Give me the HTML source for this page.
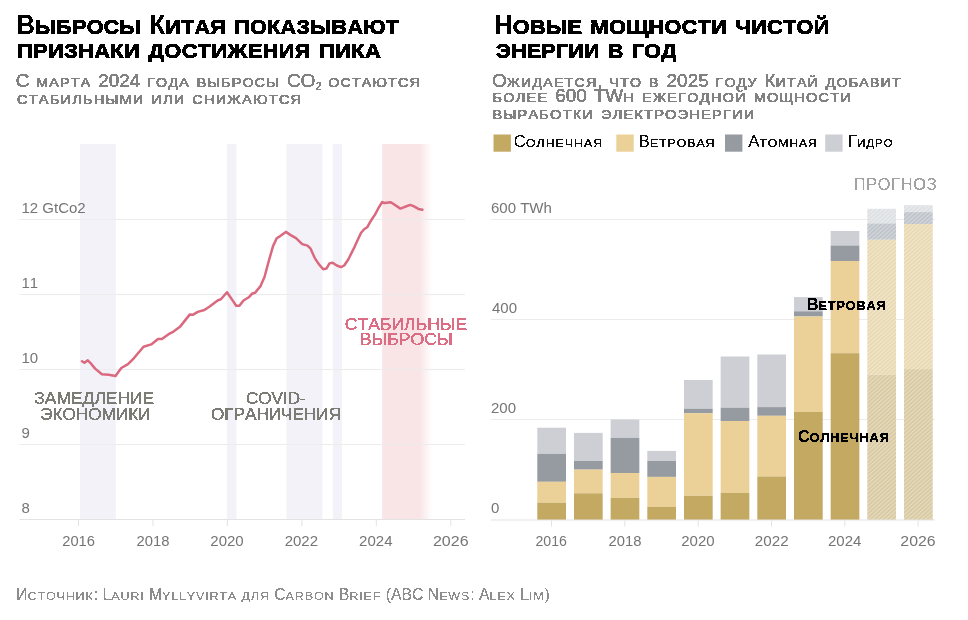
<!DOCTYPE html>
<html lang="ru"><head><meta charset="utf-8"><title>Выбросы Китая</title>
<style>
html,body{margin:0;padding:0;background:#fff}
svg{display:block}
text{font-family:"Liberation Sans", Arial, sans-serif;white-space:pre;font-kerning:none}
.u{text-transform:uppercase}
</style></head>
<body>
<svg width="968" height="620" viewBox="0 0 968 620">
<defs><filter id="crisp" x="-2%" y="-20%" width="104%" height="140%"><feComponentTransfer><feFuncA type="discrete" tableValues="0 0 1 1 1"/></feComponentTransfer></filter></defs>
<defs>
<linearGradient id="pk" x1="0" x2="1" y1="0" y2="0"><stop offset="0" stop-color="#f9e4e6"/><stop offset="0.74" stop-color="#f9e4e6"/><stop offset="1" stop-color="#f9e4e6" stop-opacity="0"/></linearGradient>
<clipPath id="fc"><rect x="867.33" y="208.8" width="28.7" height="311.2"/><rect x="904.00" y="205.2" width="28.7" height="314.8"/></clipPath>
</defs>
<rect x="80" y="144" width="35.8" height="375.5" fill="#f2f2f8"/>
<rect x="226.8" y="144" width="9.6" height="375.5" fill="#f2f2f8"/>
<rect x="286.5" y="144" width="35.9" height="375.5" fill="#f2f2f8"/>
<rect x="332.8" y="144" width="9.1" height="375.5" fill="#f2f2f8"/>
<rect x="382.2" y="144" width="50" height="375.5" fill="url(#pk)"/>
<rect x="19.5" y="219.0" width="445.5" height="1" fill="#ececec"/>
<rect x="19.5" y="294.0" width="445.5" height="1" fill="#ececec"/>
<rect x="19.5" y="369.0" width="445.5" height="1" fill="#ececec"/>
<rect x="19.5" y="444.0" width="445.5" height="1" fill="#ececec"/>
<rect x="19.5" y="519" width="445.5" height="1" fill="#e3e3e3"/>
<rect x="78.00" y="520" width="1" height="6" fill="#e3e3e3"/>
<rect x="152.45" y="520" width="1" height="6" fill="#e3e3e3"/>
<rect x="226.90" y="520" width="1" height="6" fill="#e3e3e3"/>
<rect x="301.35" y="520" width="1" height="6" fill="#e3e3e3"/>
<rect x="375.80" y="520" width="1" height="6" fill="#e3e3e3"/>
<rect x="450.25" y="520" width="1" height="6" fill="#e3e3e3"/>
<path d="M82,361.2 L84.5,362.8 L87.8,360.3 L90.3,362.8 L95.1,368.6 L101.9,374.2 L108.7,374.8 L115.5,376.1 L121.3,368 L128,364.1 L133.8,358.3 L143.5,346.7 L151.2,344.4 L158,339 L161.9,339 L168.6,334.2 L172.5,332.2 L180.3,326.4 L189.9,314.4 L192.8,314.8 L197.7,311.9 L204.4,310 L209.3,306.7 L218,300.3 L220.9,299.3 L227.0,292.3 L233.1,301.1 L236.2,305.7 L239.4,305.7 L243.5,300.5 L248.8,297.3 L251.9,293.8 L255.1,292.7 L260.3,286.4 L264.5,277 L268.7,261.3 L272.9,246.6 L276.7,238.2 L280.2,236.1 L285.9,231.9 L290.7,235.1 L296,238.2 L302.2,244.1 L307.5,245.6 L310.6,248.7 L314.8,258.1 L319,264.4 L323.2,269.2 L326.4,268.6 L329.5,263.4 L332.6,262.7 L336.8,265.5 L341,267.1 L344.2,265.5 L348.4,259.2 L354.7,246.6 L360.9,233 L364.1,229.2 L367.2,227.3 L369.5,223.2 L372,219 L375,214.6 L378.5,208 L382.1,202.1 L384.3,203 L390.8,202.2 L393.5,204 L400.4,208.6 L405,206.8 L410.3,204.9 L414,206.3 L418.4,208.9 L422.4,209.7" fill="none" stroke="#da687e" stroke-width="2.5" stroke-linejoin="round" stroke-linecap="round"/>
<rect x="491" y="219.0" width="444" height="1" fill="#ececec"/>
<rect x="491" y="319.0" width="444" height="1" fill="#ececec"/>
<rect x="491" y="419.0" width="444" height="1" fill="#ececec"/>
<rect x="537.30" y="427.7" width="28.7" height="26.2" fill="#cdcfd4"/>
<rect x="537.30" y="453.9" width="28.7" height="27.9" fill="#969ba2"/>
<rect x="537.30" y="481.8" width="28.7" height="20.9" fill="#ebd198"/>
<rect x="537.30" y="502.7" width="28.7" height="17.3" fill="#c4a963"/>
<rect x="573.97" y="432.9" width="28.7" height="28.1" fill="#cdcfd4"/>
<rect x="573.97" y="461" width="28.7" height="8.6" fill="#969ba2"/>
<rect x="573.97" y="469.6" width="28.7" height="23.7" fill="#ebd198"/>
<rect x="573.97" y="493.3" width="28.7" height="26.7" fill="#c4a963"/>
<rect x="610.64" y="419.5" width="28.7" height="18.4" fill="#cdcfd4"/>
<rect x="610.64" y="437.9" width="28.7" height="35.1" fill="#969ba2"/>
<rect x="610.64" y="473" width="28.7" height="24.9" fill="#ebd198"/>
<rect x="610.64" y="497.9" width="28.7" height="22.1" fill="#c4a963"/>
<rect x="647.31" y="450.9" width="28.7" height="10.1" fill="#cdcfd4"/>
<rect x="647.31" y="461" width="28.7" height="15.9" fill="#969ba2"/>
<rect x="647.31" y="476.9" width="28.7" height="30.0" fill="#ebd198"/>
<rect x="647.31" y="506.9" width="28.7" height="13.1" fill="#c4a963"/>
<rect x="683.98" y="380" width="28.7" height="28.7" fill="#cdcfd4"/>
<rect x="683.98" y="408.7" width="28.7" height="4.5" fill="#969ba2"/>
<rect x="683.98" y="413.2" width="28.7" height="82.6" fill="#ebd198"/>
<rect x="683.98" y="495.8" width="28.7" height="24.2" fill="#c4a963"/>
<rect x="720.65" y="356.5" width="28.7" height="51.2" fill="#cdcfd4"/>
<rect x="720.65" y="407.7" width="28.7" height="13.3" fill="#969ba2"/>
<rect x="720.65" y="421" width="28.7" height="71.9" fill="#ebd198"/>
<rect x="720.65" y="492.9" width="28.7" height="27.1" fill="#c4a963"/>
<rect x="757.32" y="354.5" width="28.7" height="52.6" fill="#cdcfd4"/>
<rect x="757.32" y="407.1" width="28.7" height="8.7" fill="#969ba2"/>
<rect x="757.32" y="415.8" width="28.7" height="60.7" fill="#ebd198"/>
<rect x="757.32" y="476.5" width="28.7" height="43.5" fill="#c4a963"/>
<rect x="793.99" y="297.1" width="28.7" height="14.2" fill="#cdcfd4"/>
<rect x="793.99" y="311.3" width="28.7" height="5.2" fill="#969ba2"/>
<rect x="793.99" y="316.5" width="28.7" height="95.4" fill="#ebd198"/>
<rect x="793.99" y="411.9" width="28.7" height="108.1" fill="#c4a963"/>
<rect x="830.66" y="231" width="28.7" height="14.5" fill="#cdcfd4"/>
<rect x="830.66" y="245.5" width="28.7" height="15.5" fill="#969ba2"/>
<rect x="830.66" y="261" width="28.7" height="92.2" fill="#ebd198"/>
<rect x="830.66" y="353.2" width="28.7" height="166.8" fill="#c4a963"/>
<rect x="867.33" y="208.8" width="28.7" height="14.6" fill="#dde0e3"/>
<rect x="867.33" y="223.4" width="28.7" height="16.4" fill="#bdc3c9"/>
<rect x="867.33" y="239.8" width="28.7" height="135.0" fill="#e9d9b1"/>
<rect x="867.33" y="374.8" width="28.7" height="145.2" fill="#d8c9a0"/>
<rect x="904.00" y="205.2" width="28.7" height="6.9" fill="#dde0e3"/>
<rect x="904.00" y="212.1" width="28.7" height="11.9" fill="#bdc3c9"/>
<rect x="904.00" y="224" width="28.7" height="145.1" fill="#e9d9b1"/>
<rect x="904.00" y="369.1" width="28.7" height="150.9" fill="#d8c9a0"/>
<path clip-path="url(#fc)" d="M862,200.00L938,131.57M862,203.96L938,135.53M862,207.92L938,139.49M862,211.89L938,143.45M862,215.85L938,147.42M862,219.81L938,151.38M862,223.77L938,155.34M862,227.73L938,159.30M862,231.69L938,163.26M862,235.66L938,167.23M862,239.62L938,171.19M862,243.58L938,175.15M862,247.54L938,179.11M862,251.50L938,183.07M862,255.46L938,187.03M862,259.43L938,191.00M862,263.39L938,194.96M862,267.35L938,198.92M862,271.31L938,202.88M862,275.27L938,206.84M862,279.24L938,210.80M862,283.20L938,214.77M862,287.16L938,218.73M862,291.12L938,222.69M862,295.08L938,226.65M862,299.04L938,230.61M862,303.01L938,234.58M862,306.97L938,238.54M862,310.93L938,242.50M862,314.89L938,246.46M862,318.85L938,250.42M862,322.82L938,254.38M862,326.78L938,258.35M862,330.74L938,262.31M862,334.70L938,266.27M862,338.66L938,270.23M862,342.62L938,274.19M862,346.59L938,278.16M862,350.55L938,282.12M862,354.51L938,286.08M862,358.47L938,290.04M862,362.43L938,294.00M862,366.39L938,297.96M862,370.36L938,301.93M862,374.32L938,305.89M862,378.28L938,309.85M862,382.24L938,313.81M862,386.20L938,317.77M862,390.17L938,321.73M862,394.13L938,325.70M862,398.09L938,329.66M862,402.05L938,333.62M862,406.01L938,337.58M862,409.97L938,341.54M862,413.94L938,345.51M862,417.90L938,349.47M862,421.86L938,353.43M862,425.82L938,357.39M862,429.78L938,361.35M862,433.74L938,365.31M862,437.71L938,369.28M862,441.67L938,373.24M862,445.63L938,377.20M862,449.59L938,381.16M862,453.55L938,385.12M862,457.52L938,389.08M862,461.48L938,393.05M862,465.44L938,397.01M862,469.40L938,400.97M862,473.36L938,404.93M862,477.32L938,408.89M862,481.29L938,412.86M862,485.25L938,416.82M862,489.21L938,420.78M862,493.17L938,424.74M862,497.13L938,428.70M862,501.10L938,432.66M862,505.06L938,436.63M862,509.02L938,440.59M862,512.98L938,444.55M862,516.94L938,448.51M862,520.90L938,452.47M862,524.87L938,456.44M862,528.83L938,460.40M862,532.79L938,464.36M862,536.75L938,468.32M862,540.71L938,472.28M862,544.67L938,476.24M862,548.64L938,480.21M862,552.60L938,484.17M862,556.56L938,488.13M862,560.52L938,492.09M862,564.48L938,496.05M862,568.45L938,500.01M862,572.41L938,503.98M862,576.37L938,507.94M862,580.33L938,511.90M862,584.29L938,515.86M862,588.25L938,519.82M862,592.22L938,523.79" stroke="#fff" stroke-opacity="0.3" stroke-width="1.47" fill="none"/>
<rect x="491" y="519.5" width="444" height="1" fill="#e3e3e3"/>
<rect x="551.00" y="520.5" width="1" height="6" fill="#e3e3e3"/>
<rect x="624.33" y="520.5" width="1" height="6" fill="#e3e3e3"/>
<rect x="697.66" y="520.5" width="1" height="6" fill="#e3e3e3"/>
<rect x="770.99" y="520.5" width="1" height="6" fill="#e3e3e3"/>
<rect x="844.32" y="520.5" width="1" height="6" fill="#e3e3e3"/>
<rect x="917.65" y="520.5" width="1" height="6" fill="#e3e3e3"/>
<rect x="493.5" y="134.5" width="17.4" height="17.2" fill="#c4a963"/>
<rect x="616.3" y="134.5" width="17.4" height="17.2" fill="#ebd198"/>
<rect x="725.0" y="134.5" width="17.4" height="17.2" fill="#969ba2"/>
<rect x="825.2" y="134.5" width="17.4" height="17.2" fill="#cdcfd4"/>
<g font-weight="700" fill="#000" filter="url(#crisp)"><text transform="translate(16.00,34.00) scale(0.9500,1)" font-size="27.6">В</text><text transform="translate(34.94,34.00) scale(1.0857,1)" font-size="19.8" class="u" letter-spacing="0.3" stroke="#000" stroke-width="0.6">ыбросы</text><text transform="translate(141.02,34.00) scale(0.9500,1)" font-size="27.6" word-spacing="1.0"> К</text><text transform="translate(165.25,34.00) scale(1.0857,1)" font-size="19.8" class="u" letter-spacing="0.3" stroke="#000" stroke-width="0.6">итая</text><text transform="translate(226.11,34.00) scale(0.9500,1)" font-size="27.6" word-spacing="1.0"> </text><text transform="translate(234.35,34.00) scale(1.0857,1)" font-size="19.8" class="u" letter-spacing="0.3" stroke="#000" stroke-width="0.6">показывают</text></g>
<g font-weight="700" fill="#000" filter="url(#crisp)"><text transform="translate(17.00,58.00) scale(1.1056,1)" font-size="19.8" class="u" letter-spacing="0.3" stroke="#000" stroke-width="0.6">признаки</text><text transform="translate(140.15,58.00) scale(0.9500,1)" font-size="27.6" word-spacing="1.0"> </text><text transform="translate(148.38,58.00) scale(1.1056,1)" font-size="19.8" class="u" letter-spacing="0.3" stroke="#000" stroke-width="0.6">достижения</text><text transform="translate(310.90,58.00) scale(0.9500,1)" font-size="27.6" word-spacing="1.0"> </text><text transform="translate(319.13,58.00) scale(1.1056,1)" font-size="19.8" class="u" letter-spacing="0.3" stroke="#000" stroke-width="0.6">пика</text></g>
<g font-weight="700" fill="#000" filter="url(#crisp)"><text transform="translate(493.90,34.00) scale(0.9500,1)" font-size="27.6">Н</text><text transform="translate(512.84,34.00) scale(1.0952,1)" font-size="19.8" class="u" letter-spacing="0.3" stroke="#000" stroke-width="0.6">овые</text><text transform="translate(582.37,34.00) scale(0.9500,1)" font-size="27.6" word-spacing="1.0"> </text><text transform="translate(590.60,34.00) scale(1.0952,1)" font-size="19.8" class="u" letter-spacing="0.3" stroke="#000" stroke-width="0.6">мощности</text><text transform="translate(727.28,34.00) scale(0.9500,1)" font-size="27.6" word-spacing="1.0"> </text><text transform="translate(735.51,34.00) scale(1.0952,1)" font-size="19.8" class="u" letter-spacing="0.3" stroke="#000" stroke-width="0.6">чистой</text></g>
<g font-weight="700" fill="#000" filter="url(#crisp)"><text transform="translate(495.80,58.00) scale(1.0766,1)" font-size="19.8" class="u" letter-spacing="0.3" stroke="#000" stroke-width="0.6">энергии</text><text transform="translate(599.78,58.00) scale(0.9500,1)" font-size="27.6" word-spacing="1.0"> </text><text transform="translate(608.01,58.00) scale(1.0766,1)" font-size="19.8" class="u" letter-spacing="0.3" stroke="#000" stroke-width="0.6">в</text><text transform="translate(623.73,58.00) scale(0.9500,1)" font-size="27.6" word-spacing="1.0"> </text><text transform="translate(631.97,58.00) scale(1.0766,1)" font-size="19.8" class="u" letter-spacing="0.3" stroke="#000" stroke-width="0.6">год</text></g>
<g font-weight="400" fill="#828282" filter="url(#crisp)"><text transform="translate(15.80,86.60) scale(1.0100,1)" font-size="18.8" word-spacing="1.5" stroke="#828282" stroke-width="0.3">С </text><text transform="translate(36.30,86.60) scale(1.0881,1)" font-size="13.1" class="u" letter-spacing="1.1" stroke="#828282" stroke-width="0.5">марта</text><text transform="translate(91.39,86.60) scale(1.0100,1)" font-size="18.8" word-spacing="1.5" stroke="#828282" stroke-width="0.3"> 2024 </text><text transform="translate(147.21,86.60) scale(1.0881,1)" font-size="13.1" class="u" letter-spacing="1.1" stroke="#828282" stroke-width="0.5">года</text><text transform="translate(189.97,86.60) scale(1.0100,1)" font-size="18.8" word-spacing="1.5" stroke="#828282" stroke-width="0.3"> </text><text transform="translate(196.76,86.60) scale(1.0881,1)" font-size="13.1" class="u" letter-spacing="1.1" stroke="#828282" stroke-width="0.5">выбросы</text><text transform="translate(280.13,86.60) scale(1.0100,1)" font-size="18.8" word-spacing="1.5" stroke="#828282" stroke-width="0.3"> CO<tspan font-size="10.7" dy="3.3">2</tspan><tspan dy="-3.3"> </tspan></text><text transform="translate(328.20,86.60) scale(1.0881,1)" font-size="13.1" class="u" letter-spacing="1.1" stroke="#828282" stroke-width="0.5">остаются</text></g>
<g font-weight="400" fill="#828282" filter="url(#crisp)"><text transform="translate(17.00,104.20) scale(1.1103,1)" font-size="13.1" class="u" letter-spacing="1.1" stroke="#828282" stroke-width="0.5">стабильными</text><text transform="translate(144.56,104.20) scale(1.0100,1)" font-size="18.8" word-spacing="1.5" stroke="#828282" stroke-width="0.3"> </text><text transform="translate(151.35,104.20) scale(1.1103,1)" font-size="13.1" class="u" letter-spacing="1.1" stroke="#828282" stroke-width="0.5">или</text><text transform="translate(185.47,104.20) scale(1.0100,1)" font-size="18.8" word-spacing="1.5" stroke="#828282" stroke-width="0.3"> </text><text transform="translate(192.26,104.20) scale(1.1103,1)" font-size="13.1" class="u" letter-spacing="1.1" stroke="#828282" stroke-width="0.5">снижаются</text></g>
<g font-weight="400" fill="#828282" filter="url(#crisp)"><text transform="translate(492.00,86.50) scale(1.0100,1)" font-size="18.8" stroke="#828282" stroke-width="0.3">О</text><text transform="translate(506.77,86.50) scale(1.0851,1)" font-size="13.1" class="u" letter-spacing="1.1" stroke="#828282" stroke-width="0.5">жидается</text><text transform="translate(597.46,86.50) scale(1.0100,1)" font-size="18.8" word-spacing="1.5" stroke="#828282" stroke-width="0.3">, </text><text transform="translate(609.53,86.50) scale(1.0851,1)" font-size="13.1" class="u" letter-spacing="1.1" stroke="#828282" stroke-width="0.5">что</text><text transform="translate(642.32,86.50) scale(1.0100,1)" font-size="18.8" word-spacing="1.5" stroke="#828282" stroke-width="0.3"> </text><text transform="translate(649.11,86.50) scale(1.0851,1)" font-size="13.1" class="u" letter-spacing="1.1" stroke="#828282" stroke-width="0.5">в</text><text transform="translate(659.78,86.50) scale(1.0100,1)" font-size="18.8" word-spacing="1.5" stroke="#828282" stroke-width="0.3"> 2025 </text><text transform="translate(715.61,86.50) scale(1.0851,1)" font-size="13.1" class="u" letter-spacing="1.1" stroke="#828282" stroke-width="0.5">году</text><text transform="translate(757.79,86.50) scale(1.0100,1)" font-size="18.8" word-spacing="1.5" stroke="#828282" stroke-width="0.3"> К</text><text transform="translate(775.64,86.50) scale(1.0851,1)" font-size="13.1" class="u" letter-spacing="1.1" stroke="#828282" stroke-width="0.5">итай</text><text transform="translate(819.01,86.50) scale(1.0100,1)" font-size="18.8" word-spacing="1.5" stroke="#828282" stroke-width="0.3"> </text><text transform="translate(825.80,86.50) scale(1.0851,1)" font-size="13.1" class="u" letter-spacing="1.1" stroke="#828282" stroke-width="0.5">добавит</text></g>
<g font-weight="400" fill="#828282" filter="url(#crisp)"><text transform="translate(492.50,102.00) scale(1.1105,1)" font-size="13.1" class="u" letter-spacing="1.1" stroke="#828282" stroke-width="0.5">более</text><text transform="translate(548.42,102.00) scale(1.0100,1)" font-size="18.8" word-spacing="1.5" stroke="#828282" stroke-width="0.3"> 600 TW</text><text transform="translate(623.21,102.00) scale(1.1105,1)" font-size="13.1" class="u" letter-spacing="1.1" stroke="#828282" stroke-width="0.5">h</text><text transform="translate(634.93,102.00) scale(1.0100,1)" font-size="18.8" word-spacing="1.5" stroke="#828282" stroke-width="0.3"> </text><text transform="translate(641.72,102.00) scale(1.1105,1)" font-size="13.1" class="u" letter-spacing="1.1" stroke="#828282" stroke-width="0.5">ежегодной</text><text transform="translate(746.88,102.00) scale(1.0100,1)" font-size="18.8" word-spacing="1.5" stroke="#828282" stroke-width="0.3"> </text><text transform="translate(753.67,102.00) scale(1.1105,1)" font-size="13.1" class="u" letter-spacing="1.1" stroke="#828282" stroke-width="0.5">мощности</text></g>
<g font-weight="400" fill="#828282" filter="url(#crisp)"><text transform="translate(492.50,118.50) scale(1.1115,1)" font-size="13.1" class="u" letter-spacing="1.1" stroke="#828282" stroke-width="0.5">выработки</text><text transform="translate(594.25,118.50) scale(1.0100,1)" font-size="18.8" word-spacing="1.5" stroke="#828282" stroke-width="0.3"> </text><text transform="translate(601.04,118.50) scale(1.1115,1)" font-size="13.1" class="u" letter-spacing="1.1" stroke="#828282" stroke-width="0.5">электроэнергии</text></g>
<g font-weight="400" fill="#111" filter="url(#crisp)"><text transform="translate(513.80,147.30)" font-size="16.8">С</text><text transform="translate(525.93,147.30) scale(1.0720,1)" font-size="11.6" class="u" letter-spacing="0.9" stroke="#111" stroke-width="0.15">олнечная</text></g>
<g font-weight="400" fill="#111" filter="url(#crisp)"><text transform="translate(638.70,147.30)" font-size="16.8">В</text><text transform="translate(649.91,147.30) scale(1.0616,1)" font-size="11.6" class="u" letter-spacing="0.9" stroke="#111" stroke-width="0.15">етровая</text></g>
<g font-weight="400" fill="#111" filter="url(#crisp)"><text transform="translate(748.20,147.30)" font-size="16.8">А</text><text transform="translate(759.41,147.30) scale(1.0485,1)" font-size="11.6" class="u" letter-spacing="0.9" stroke="#111" stroke-width="0.15">томная</text></g>
<g font-weight="400" fill="#111" filter="url(#crisp)"><text transform="translate(847.80,147.30)" font-size="16.8">Г</text><text transform="translate(856.90,147.30)" font-size="11.6" class="u" letter-spacing="0.9" stroke="#111" stroke-width="0.15">идро</text></g>
<g font-weight="400" fill="#a2a2a2" filter="url(#crisp)"><text transform="translate(853.80,190.00) scale(1.0075,1)" font-size="16.3" letter-spacing="0.65">ПРОГНОЗ</text></g>
<g font-weight="400" fill="#7c7c76" filter="url(#crisp)"><text transform="translate(34.20,404.00) scale(1.0917,1)" font-size="16" stroke="#7c7c76" stroke-width="0.2">ЗАМЕДЛЕНИЕ</text></g>
<g font-weight="400" fill="#7c7c76" filter="url(#crisp)"><text transform="translate(40.20,419.50) scale(1.0733,1)" font-size="16" stroke="#7c7c76" stroke-width="0.2">ЭКОНОМИКИ</text></g>
<g font-weight="400" fill="#7c7c76" filter="url(#crisp)"><text transform="translate(245.90,403.80) scale(1.0693,1)" font-size="16" stroke="#7c7c76" stroke-width="0.2">COVID-</text></g>
<g font-weight="400" fill="#7c7c76" filter="url(#crisp)"><text transform="translate(210.90,419.50) scale(1.0723,1)" font-size="16" stroke="#7c7c76" stroke-width="0.2">ОГРАНИЧЕНИЯ</text></g>
<g font-weight="400" fill="#db6d84" filter="url(#crisp)"><text transform="translate(344.80,329.60) scale(1.1000,1)" font-size="16" stroke="#db6d84" stroke-width="0.2">СТАБИЛЬНЫЕ</text></g>
<g font-weight="400" fill="#db6d84" filter="url(#crisp)"><text transform="translate(359.70,345.20) scale(1.1061,1)" font-size="16" stroke="#db6d84" stroke-width="0.2">ВЫБРОСЫ</text></g>
<g font-weight="700" fill="#000" filter="url(#crisp)"><text transform="translate(806.90,309.80)" font-size="16">В</text><text transform="translate(818.45,309.80) scale(1.0334,1)" font-size="12.2" class="u" letter-spacing="0.9" stroke="#000" stroke-width="0.2">етровая</text></g>
<g font-weight="700" fill="#000" filter="url(#crisp)"><text transform="translate(798.10,441.60)" font-size="16">С</text><text transform="translate(809.65,441.60) scale(1.0376,1)" font-size="12.2" class="u" letter-spacing="0.9" stroke="#000" stroke-width="0.2">олнечная</text></g>
<g font-weight="400" fill="#8d8d8d" filter="url(#crisp)"><text transform="translate(16.20,599.80)" font-size="15.8">И</text><text transform="translate(27.56,599.80) scale(1.1082,1)" font-size="11.4" class="u" letter-spacing="0.7">сточник</text><text transform="translate(93.64,599.80)" font-size="15.8">: L</text><text transform="translate(111.21,599.80) scale(1.1082,1)" font-size="11.4" class="u" letter-spacing="0.7">auri</text><text transform="translate(144.49,599.80)" font-size="15.8"> M</text><text transform="translate(162.04,599.80) scale(1.1082,1)" font-size="11.4" class="u" letter-spacing="0.7">yllyvirta</text><text transform="translate(237.14,599.80)" font-size="15.8"> </text><text transform="translate(241.53,599.80) scale(1.1082,1)" font-size="11.4" class="u" letter-spacing="0.7">для</text><text transform="translate(269.82,599.80)" font-size="15.8"> C</text><text transform="translate(285.62,599.80) scale(1.1082,1)" font-size="11.4" class="u" letter-spacing="0.7">arbon</text><text transform="translate(334.43,599.80)" font-size="15.8"> B</text><text transform="translate(349.36,599.80) scale(1.1082,1)" font-size="11.4" class="u" letter-spacing="0.7">rief</text><text transform="translate(381.24,599.80)" font-size="15.8"> (ABC N</text><text transform="translate(439.18,599.80) scale(1.1082,1)" font-size="11.4" class="u" letter-spacing="0.7">ews</text><text transform="translate(470.28,599.80)" font-size="15.8">: A</text><text transform="translate(489.60,599.80) scale(1.1082,1)" font-size="11.4" class="u" letter-spacing="0.7">lex</text><text transform="translate(515.81,599.80)" font-size="15.8"> L</text><text transform="translate(528.98,599.80) scale(1.1082,1)" font-size="11.4" class="u" letter-spacing="0.7">im</text><text transform="translate(544.57,599.80)" font-size="15.8">)</text></g>
<g font-weight="400" fill="#757575"><text transform="translate(21.50,213.00)" font-size="15.0">12 GtCo2</text></g>
<g font-weight="400" fill="#757575"><text transform="translate(21.50,288.00)" font-size="15.0">11</text></g>
<g font-weight="400" fill="#757575"><text transform="translate(21.50,363.00)" font-size="15.0">10</text></g>
<g font-weight="400" fill="#757575"><text transform="translate(21.50,438.00)" font-size="15.0">9</text></g>
<g font-weight="400" fill="#757575"><text transform="translate(21.50,513.00)" font-size="15.0">8</text></g>
<g font-weight="400" fill="#757575"><text transform="translate(62.20,546.00) scale(0.9820,1)" font-size="15.0">2016</text></g>
<g font-weight="400" fill="#757575"><text transform="translate(136.55,546.00) scale(0.9882,1)" font-size="15.0">2018</text></g>
<g font-weight="400" fill="#757575"><text transform="translate(210.30,546.00)" font-size="15.0">2020</text></g>
<g font-weight="400" fill="#757575"><text transform="translate(284.65,546.00)" font-size="15.0">2022</text></g>
<g font-weight="400" fill="#757575"><text transform="translate(359.10,546.00)" font-size="15.0">2024</text></g>
<g font-weight="400" fill="#757575"><text transform="translate(432.95,546.00) scale(1.0691,1)" font-size="15.0">2026</text></g>
<g font-weight="400" fill="#757575"><text transform="translate(491.00,213.00)" font-size="15.0">600 TWh</text></g>
<g font-weight="400" fill="#757575"><text transform="translate(492.00,313.00)" font-size="15.0">400</text></g>
<g font-weight="400" fill="#757575"><text transform="translate(491.00,413.00)" font-size="15.0">200</text></g>
<g font-weight="400" fill="#757575"><text transform="translate(491.00,512.50)" font-size="15.0">0</text></g>
<g font-weight="400" fill="#757575"><text transform="translate(535.50,546.00) scale(0.9438,1)" font-size="15.0">2016</text></g>
<g font-weight="400" fill="#757575"><text transform="translate(608.53,546.00) scale(0.9882,1)" font-size="15.0">2018</text></g>
<g font-weight="400" fill="#757575"><text transform="translate(681.26,546.00)" font-size="15.0">2020</text></g>
<g font-weight="400" fill="#757575"><text transform="translate(754.79,546.00) scale(1.0133,1)" font-size="15.0">2022</text></g>
<g font-weight="400" fill="#757575"><text transform="translate(828.02,546.00)" font-size="15.0">2024</text></g>
<g font-weight="400" fill="#757575"><text transform="translate(900.35,546.00) scale(1.0562,1)" font-size="15.0">2026</text></g>
</svg>
</body></html>
